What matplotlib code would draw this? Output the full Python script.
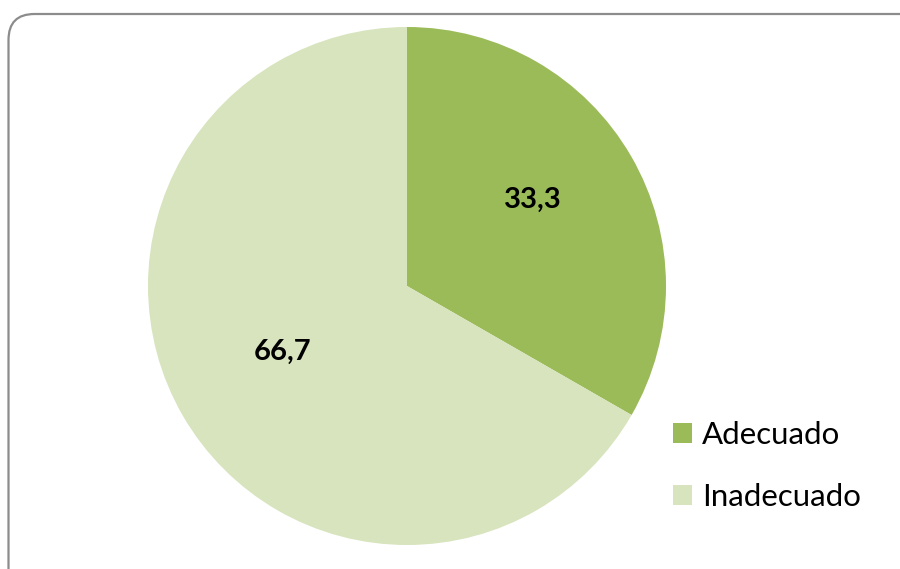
import matplotlib.pyplot as plt
from matplotlib.patches import FancyBboxPatch, Patch
from matplotlib.transforms import IdentityTransform

categories = ["Adecuado", "Inadecuado"]
values = [33.3, 66.7]
colors = ["#9BBB59", "#D7E4BD"]

plt.rcParams["font.family"] = ["Lato", "DejaVu Sans"]

W, H, DPI = 900, 569, 100
fig = plt.figure(figsize=(W / DPI, H / DPI), dpi=DPI)

# rounded chart-area frame, in pixel coordinates
frame = FancyBboxPatch((8.5, -40), 920, H - 14 + 40,
                       boxstyle="round,pad=0,rounding_size=26",
                       transform=IdentityTransform(), facecolor="none",
                       edgecolor="#8C8C8C", linewidth=1.6, zorder=5)
fig.patches.append(frame)

cx, cy, r = 407, H - 286, 259
ax = fig.add_axes([(cx - r) / W, (cy - r) / H, 2 * r / W, 2 * r / H])
wedges, _ = ax.pie(values, colors=colors, startangle=90, counterclock=False,
                   radius=1, wedgeprops={"linewidth": 0})
ax.set_xlim(-1, 1)
ax.set_ylim(-1, 1)
ax.set_aspect("equal")
ax.axis("off")

# value labels
ax.text((533 - cx) / r, ((H - 200) - cy) / r, f"{values[0]:.1f}".replace(".", ","),
        ha="center", va="center", fontsize=21, fontweight="bold")
ax.text((283 - cx) / r, ((H - 352) - cy) / r, f"{values[1]:.1f}".replace(".", ","),
        ha="center", va="center", fontsize=21, fontweight="bold")

handles = [Patch(facecolor=c, edgecolor="none") for c in colors]
fig.legend(handles, categories, loc="upper left",
           bbox_to_anchor=(673 / W, 1 - 421 / H), frameon=False,
           fontsize=22.5, handlelength=0.62, handleheight=0.62,
           handletextpad=0.3, labelspacing=1.08, borderpad=0,
           borderaxespad=0)

fig.savefig("out.png", dpi=DPI)
